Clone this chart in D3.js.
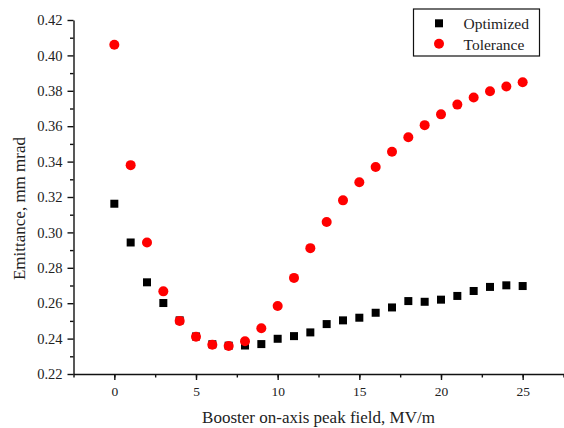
<!DOCTYPE html>
<html>
<head>
<meta charset="utf-8">
<script src="https://cdn.jsdelivr.net/npm/d3@7"></script>
<style>
  body { margin: 0; background: #fff; }
  text { font-family: "Liberation Serif", "Times New Roman", serif; fill: #222; }
</style>
</head>
<body>
<div id="chart"></div>
<script>
// booster field values (MV/m)
const fields = [0, 1, 2, 3, 4, 5, 6, 7, 8, 9, 10, 11, 12, 13, 14, 15, 16, 17, 18, 19, 20, 21, 22, 23, 24, 25];

// emittance, mm mrad
const optimized = [0.3162, 0.2943, 0.2718, 0.2601, 0.2503, 0.2412, 0.2368, 0.2360, 0.2361, 0.2369, 0.2399, 0.2414,
    0.2435, 0.2482, 0.2503, 0.2518, 0.2546, 0.2576, 0.2612, 0.2608, 0.2620, 0.2641, 0.2669, 0.2692, 0.2701, 0.2697];
const tolerance = [0.4060, 0.3380, 0.2943, 0.2667, 0.2500, 0.2410, 0.2365, 0.2358, 0.2385, 0.2458, 0.2584, 0.2743,
    0.2911, 0.3059, 0.3181, 0.3283, 0.3369, 0.3456, 0.3538, 0.3606, 0.3667, 0.3722, 0.3762, 0.3797, 0.3824, 0.3848];

const xTicks = [0, 5, 10, 15, 20, 25];
const yTicks = [0.22, 0.24, 0.26, 0.28, 0.30, 0.32, 0.34, 0.36, 0.38, 0.40, 0.42];

const W = 564, H = 428;
const margin = { top: 20, right: 0.5, bottom: 54, left: 73.5 };
const width = W - margin.left - margin.right,
    height = H - margin.top - margin.bottom;

const svg = d3.select("#chart")
    .append("svg")
    .attr("width", W)
    .attr("height", H);

const g = svg.append("g")
    .attr("transform", `translate(${margin.left}, ${margin.top})`);

const x = d3.scaleLinear().domain([-2.5, 27.5]).range([0, width]);
const y = d3.scaleLinear().domain([0.22, 0.42]).range([height, 0]);

// minor ticks first (no labels)
g.append("g")
    .attr("transform", `translate(0, ${height})`)
    .call(d3.axisBottom(x).tickValues(d3.range(-2.5, 27.6, 2.5)).tickSize(3.5).tickFormat(""))
    .call(s => s.select(".domain").remove());
g.append("g")
    .call(d3.axisLeft(y).tickValues(d3.range(0.23, 0.42, 0.02)).tickSize(3.5).tickFormat(""))
    .call(s => s.select(".domain").remove());

// major axes
const xAxis = g.append("g")
    .attr("transform", `translate(0, ${height})`)
    .call(d3.axisBottom(x).tickValues(xTicks).tickSize(6).tickPadding(6).tickSizeOuter(0));
xAxis.selectAll("text").style("font-size", "13.5px");

const yAxis = g.append("g")
    .call(d3.axisLeft(y).tickValues(yTicks).tickSize(6).tickPadding(5).tickFormat(d3.format(".2f")).tickSizeOuter(0));
yAxis.selectAll("text").style("font-size", "14.5px");

g.selectAll(".domain, .tick line").attr("stroke", "#111").attr("stroke-width", 1.4);

// data points
const optData = fields.map((f, i) => ({ f: f, v: optimized[i] }));
const tolData = fields.map((f, i) => ({ f: f, v: tolerance[i] }));

const sq = 8;
g.selectAll(".opt")
    .data(optData)
    .join("rect")
    .attr("class", "opt")
    .attr("x", d => x(d.f) - sq / 2)
    .attr("y", d => y(d.v) - sq / 2)
    .attr("width", sq)
    .attr("height", sq)
    .attr("fill", "#000");

g.selectAll(".tol")
    .data(tolData)
    .join("circle")
    .attr("class", "tol")
    .attr("cx", d => x(d.f))
    .attr("cy", d => y(d.v))
    .attr("r", 5)
    .attr("fill", "#ff0000");

// axis titles
svg.append("text")
    .attr("x", margin.left + width / 2)
    .attr("y", 422.5)
    .attr("text-anchor", "middle")
    .style("font-size", "17px")
    .text("Booster on-axis peak field, MV/m");

svg.append("text")
    .attr("transform", "translate(25, 208.5) rotate(-90)")
    .attr("text-anchor", "middle")
    .style("font-size", "17px")
    .text("Emittance, mm mrad");

// legend
const lg = svg.append("g").attr("transform", "translate(413.5, 9)");
lg.append("rect")
    .attr("width", 126)
    .attr("height", 47)
    .attr("fill", "#fff")
    .attr("stroke", "#111")
    .attr("stroke-width", 1.2);
lg.append("rect")
    .attr("x", 25.5 - sq / 2).attr("y", 14.3 - sq / 2)
    .attr("width", sq).attr("height", sq)
    .attr("fill", "#000");
lg.append("circle")
    .attr("cx", 25.5).attr("cy", 34.7).attr("r", 5)
    .attr("fill", "#ff0000");
lg.append("text").attr("x", 50).attr("y", 20.3).style("font-size", "15.5px").text("Optimized");
lg.append("text").attr("x", 50).attr("y", 41).style("font-size", "15.5px").text("Tolerance");
</script>
</body>
</html>
